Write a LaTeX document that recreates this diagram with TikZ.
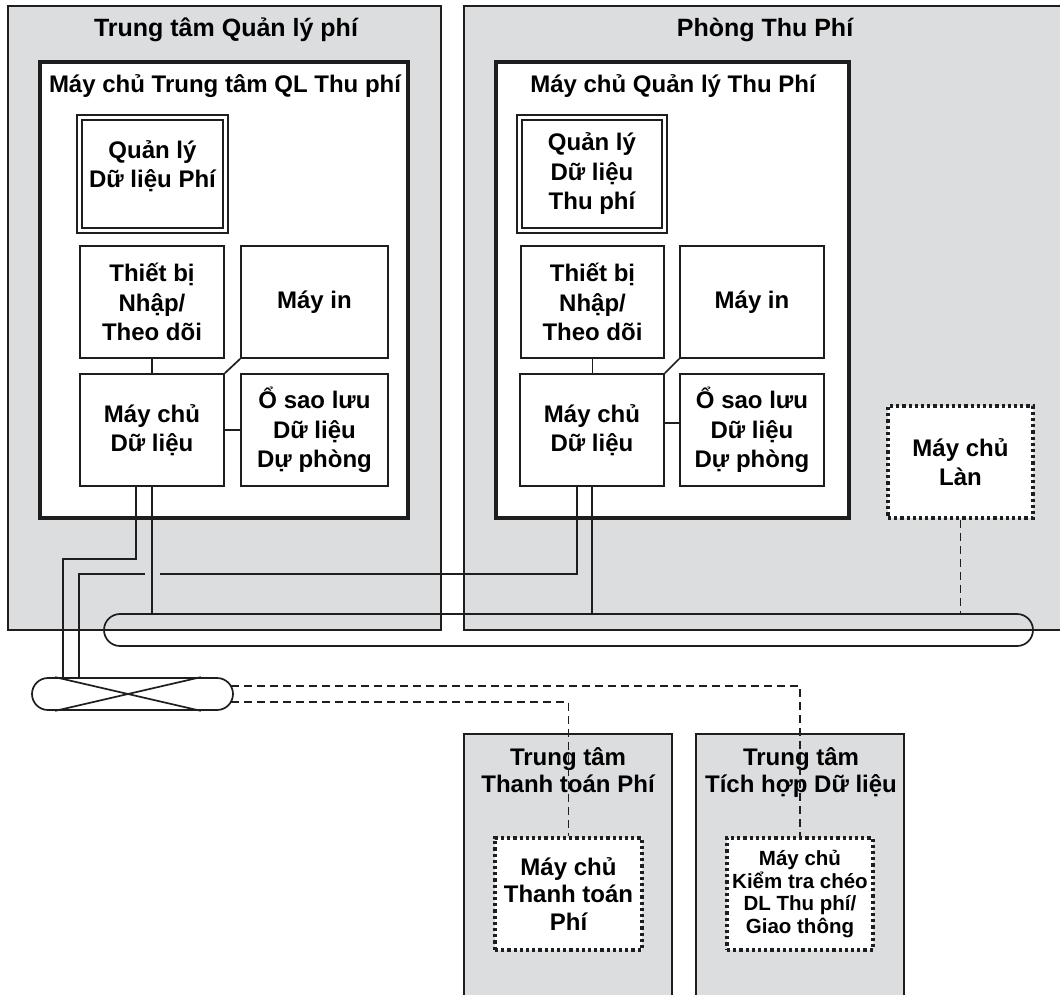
\documentclass[tikz,border=0pt]{standalone}
\usepackage{fontspec}
\setmainfont{Liberation Sans}
\usetikzlibrary{calc}
\definecolor{panel}{RGB}{220,221,223}
\definecolor{ink}{RGB}{30,30,30}
\begin{document}
\begin{tikzpicture}[x=1pt,y=-1pt,
  every node/.style={font=\fontsize{24}{29.5}\selectfont\bfseries, align=center, inner sep=0pt, text=black},
  panelbox/.style={draw=ink, line width=1.7pt, fill=panel, rectangle},
  thickbox/.style={draw=ink, line width=3.8pt, fill=white, rectangle},
  dblbox/.style={draw=ink, double=white, double distance=2.8pt, line width=2pt, fill=white, rectangle},
  plainbox/.style={draw=ink, line width=1.7pt, fill=white, rectangle},
  dotbox/.style={draw=ink, line width=3.2pt, dash pattern=on 3.2pt off 3pt, fill=white, rectangle},
  pill/.style={draw=ink, line width=1.7pt, rounded corners=16pt, rectangle},
  wire/.style={draw=ink, line width=1.7pt},
  dwire/.style={draw=ink, line width=1.6pt, dash pattern=on 8pt off 5pt},
  smalltxt/.style={font=\fontsize{20.5}{22.5}\selectfont\bfseries},
  bigtitle/.style={font=\fontsize{25}{29}\selectfont\bfseries, anchor=base},
]
\useasboundingbox (0,0) rectangle (1060,995);
\clip (0,0) rectangle (1060,995);
\fill[white] (0,0) rectangle (1060,995);

% panels
\node[panelbox, minimum width=433pt, minimum height=624pt] (gL) at (224.5,318) {};
\node[panelbox, minimum width=611pt, minimum height=624pt] (gR) at (769.5,318) {};
\node[panelbox, minimum width=208pt, minimum height=280pt] (gTT) at (568,874) {};
\node[panelbox, minimum width=208pt, minimum height=280pt] (gTH) at (800,874) {};

\node[bigtitle] (gLt) at (226,37) {Trung tâm Quản lý phí};
\node[bigtitle] (gRt) at (765,37) {Phòng Thu Phí};
\node[anchor=base] (gTTa) at (568,765) {Trung tâm};
\node[anchor=base] (gTTb) at (568,792) {Thanh toán Phí};
\node[anchor=base] (gTHa) at (801,765) {Trung tâm};
\node[anchor=base] (gTHb) at (801,792) {Tích hợp Dữ liệu};

% server boxes
\node[thickbox, minimum width=368pt, minimum height=456pt] (tL) at (224,290) {};
\node[thickbox, minimum width=353pt, minimum height=456pt] (tR) at (672.5,290) {};
\node[anchor=base] (tLt) at (225,93) {Máy chủ Trung tâm QL Thu phí};
\node[anchor=base] (tRt) at (673,93) {Máy chủ Quản lý Thu Phí};

% left internals
\node[dblbox, minimum width=146pt, minimum height=113pt] (qlL) at (152.5,174) {};
\node (qlLt) at ([yshift=8pt]qlL.center) {Quản lý\\Dữ liệu Phí};
\node[plainbox, minimum width=144pt, minimum height=112pt] (tbL) at (152,302) {Thiết bị\\Nhập/\\Theo dõi};
\node[plainbox, minimum width=147pt, minimum height=112pt] (miL) at (314.5,302) {Máy in};
\node[plainbox, minimum width=144pt, minimum height=112pt] (dsL) at (152,430) {Máy chủ\\Dữ liệu};
\node[plainbox, minimum width=147pt, minimum height=112pt] (bkL) at (314.5,430) {Ổ sao lưu\\Dữ liệu\\Dự phòng};

% right internals
\node[dblbox, minimum width=145pt, minimum height=113pt] (qlR) at (592,174) {Quản lý\\Dữ liệu\\Thu phí};
\node[plainbox, minimum width=143pt, minimum height=112pt] (tbR) at (592.5,302) {Thiết bị\\Nhập/\\Theo dõi};
\node[plainbox, minimum width=144pt, minimum height=112pt] (miR) at (752,302) {Máy in};
\node[plainbox, minimum width=144pt, minimum height=112pt] (dsR) at (592,430) {Máy chủ\\Dữ liệu};
\node[plainbox, minimum width=144pt, minimum height=112pt] (bkR) at (752,430) {Ổ sao lưu\\Dữ liệu\\Dự phòng};

% dotted servers
\node[dotbox, minimum width=145pt, minimum height=112pt] (lane) at (960.5,462) {Máy chủ\\Làn};
\node[dotbox, minimum width=147pt, minimum height=112pt, font=\fontsize{24}{27.5}\selectfont\bfseries] (dTT) at (568.5,894) {Máy chủ\\Thanh toán\\Phí};
\node[dotbox, minimum width=146pt, minimum height=112pt, smalltxt] (dTH) at (800,894) {Máy chủ\\Kiểm tra chéo\\DL Thu phí/\\Giao thông};

% inner connectors
\draw[wire] (tbL.south) -- (dsL.north);
\draw[wire] (miL.south west) -- (dsL.north east);
\draw[wire] (bkL.west) -- (bkL.west -| dsL.east);
\draw[wire] (tbR.south) -- (tbR.south |- dsR.north);
\draw[wire] (miR.south west) -- (dsR.north east);
\draw[wire] ([yshift=7pt]bkR.west) -- ([yshift=7pt]bkR.west -| dsR.east);

% bus and switch
\node[pill, minimum width=929pt, minimum height=32pt] (bus) at (568.5,630) {};
\node[pill, fill=white, minimum width=201pt, minimum height=32pt] (sw) at (132.5,694) {};
\draw[wire] ([xshift=24pt]sw.north west) -- ([xshift=-33pt]sw.south east);
\draw[wire] ([xshift=24pt]sw.south west) -- ([xshift=-33pt]sw.north east);

\coordinate (gapL) at (145,574);
\coordinate (gapR) at (160,574);
\coordinate (swE1) at (231,686);
\coordinate (swE2) at (231,702);

% network connectors
\draw[wire] ([xshift=-16pt]dsL.south) -- ++(0,72) -| ([xshift=32pt]sw.north west);
\draw[wire] (dsL.south) -- (dsL.south |- bus.north);
\draw[wire] ([xshift=48pt]sw.north west) |- (gapL);
\draw[wire] (gapR) -| ([xshift=-15pt]dsR.south);
\draw[wire] (dsR.south) -- (dsR.south |- bus.north);
\draw[dwire] (lane.south) -- (lane.south |- bus.north);
\draw[dwire] (swE1) -| (dTH.north);
\draw[dwire] (swE2) -| (dTT.north);
\end{tikzpicture}
\end{document}
